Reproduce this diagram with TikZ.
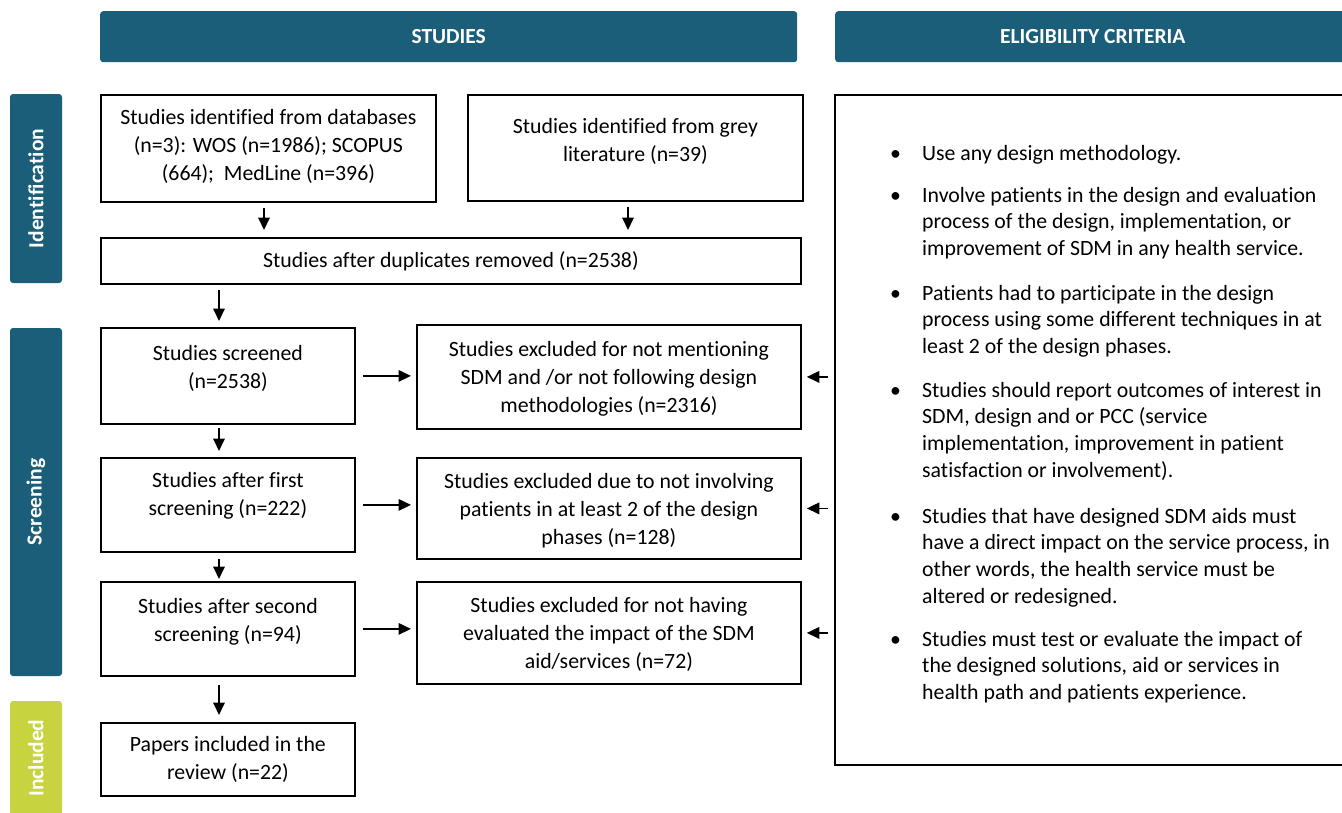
\documentclass[tikz,border=0pt]{standalone}
\usepackage{fontspec}
\setmainfont{Carlito}[Ligatures=NoCommon]
\usetikzlibrary{arrows.meta}
\definecolor{tealbar}{HTML}{1A5E7A}
\definecolor{limebar}{HTML}{C8D43F}
\newcommand{\bxtext}[4]{\parbox[c][#2pt][t]{#1pt}{\centering\fontsize{21.8}{27.7}\selectfont\vspace*{\dimexpr#3pt-19.39pt\relax}\strut #4}}
\newcommand{\bul}[1]{\parbox[t]{450pt}{\fontsize{21.8}{26.7}\selectfont\raggedright\leftskip=32pt\relax\hspace*{-32pt}\makebox[32pt][l]{\textbullet}#1}}
\begin{document}
\begin{tikzpicture}[x=1pt,y=-1pt,
  box/.style={draw=black, line width=1.8pt, inner sep=0pt, anchor=north west},
  hdr/.style={fill=tealbar, rounded corners=3pt, text=white, inner sep=0pt,
    font=\fontsize{21.5}{26}\selectfont\bfseries, anchor=north west},
  side/.style={rounded corners=3pt, text=white, inner sep=0pt, rotate=90,
    font=\fontsize{21.5}{26}\selectfont\bfseries, anchor=center, minimum height=52pt},
  crit/.style={anchor=base west, inner sep=0pt},
  arr/.style={-{Triangle[length=12.5pt,width=11.5pt]}, line width=1.8pt}
]
\useasboundingbox (0,0) rectangle (1342,812);
\fill[white] (0,0) rectangle (1342,812);

% headers
\node[hdr, minimum width=697pt, minimum height=51pt] (hstud) at (100,11) {STUDIES};
\node[hdr, minimum width=515pt, minimum height=51pt] (helig) at (835,11) {ELIGIBILITY CRITERIA};

% side bars
\node[side, fill=tealbar, minimum width=189pt] (sid) at (36,188.5) {Identification};
\node[side, fill=tealbar, minimum width=348pt] (sscr) at (36,502) {Screening};
\node[side, fill=limebar, minimum width=114pt] (sinc) at (36,758) {Included};

% flow boxes
\node[box] (box1) at (100,94) {\bxtext{335}{107}{30}{Studies identified from databases\\(n=3): WOS (n=1986); SCOPUS\\(664);\ \ MedLine (n=396)}};
\node[box] (box2) at (467,94) {\bxtext{335}{106}{39}{Studies identified from grey\\literature (n=39)}};
\node[box] (dup) at (100,237) {\bxtext{700}{46}{30}{Studies after duplicates removed (n=2538)}};
\node[box] (scr) at (100,327) {\bxtext{254}{96}{33}{Studies screened\\(n=2538)}};
\node[box] (first) at (100,457) {\bxtext{254}{94}{30}{Studies after first\\screening (n=222)}};
\node[box] (second) at (100,581) {\bxtext{254}{94}{32}{Studies after second\\screening (n=94)}};
\node[box] (papers) at (100,722) {\bxtext{254}{73}{29}{Papers included in the\\review (n=22)}};
\node[box] (ex1) at (416,324) {\bxtext{384}{104}{32}{Studies excluded for not mentioning\\SDM and /or not following design\\methodologies (n=2316)}};
\node[box] (ex2) at (416,457) {\bxtext{384}{101}{31}{Studies excluded due to not involving\\patients in at least 2 of the design\\phases (n=128)}};
\node[box] (ex3) at (416,581) {\bxtext{384}{102}{31}{Studies excluded for not having\\evaluated the impact of the SDM\\aid/services (n=72)}};

% criteria box
\node[box, minimum width=516pt, minimum height=670pt] (rbox) at (834,94) {};
\node[crit] (c1) at (890,160) {\bul{Use any design methodology.}};
\node[crit] (c2) at (890,202) {\bul{Involve patients in the design and evaluation\\process of the design, implementation, or\\improvement of SDM in any health service.}};
\node[crit] (c3) at (890,300) {\bul{Patients had to participate in the design\\process using some different techniques in at\\least 2 of the design phases.}};
\node[crit] (c4) at (890,397) {\bul{Studies should report outcomes of interest in\\SDM, design and or PCC (service\\implementation, improvement in patient\\satisfaction or involvement).}};
\node[crit] (c5) at (890,523) {\bul{Studies that have designed SDM aids must\\have a direct impact on the service process, in\\other words, the health service must be\\altered or redesigned.}};
\node[crit] (c6) at (890,646) {\bul{Studies must test or evaluate the impact of\\the designed solutions, aid or services in\\health path and patients experience.}};

% connectors
\coordinate (xa) at (264,0);
\coordinate (xb) at (628,0);
\coordinate (xc) at (219,0);
\draw[arr, shorten <=5pt, shorten >=7pt] (xa |- box1.south) -- (xa |- dup.north);
\draw[arr, shorten <=5pt, shorten >=7pt] (xb |- box2.south) -- (xb |- dup.north);
\draw[arr, shorten <=5pt, shorten >=6pt] (xc |- dup.south) -- (xc |- scr.north);
\draw[arr, shorten <=3pt, shorten >=6pt] (xc |- scr.south) -- (xc |- first.north);
\draw[arr, shorten <=6pt, shorten >=2pt] (xc |- first.south) -- (xc |- second.north);
\draw[arr, shorten <=8pt, shorten >=7pt] (xc |- second.south) -- (xc |- papers.north);
\draw[arr, shorten <=7pt, shorten >=5pt] (scr.east) -- (scr.east -| ex1.west);
\draw[arr, shorten <=7pt, shorten >=5pt] (first.east) -- (first.east -| ex2.west);
\draw[arr, shorten <=7pt, shorten >=5pt] (second.east) -- (second.east -| ex3.west);
\draw[arr, shorten <=6pt, shorten >=5pt] (rbox.west |- ex1.east) -- (ex1.east);
\draw[arr, shorten <=6pt, shorten >=5pt] (rbox.west |- ex2.east) -- (ex2.east);
\draw[arr, shorten <=6pt, shorten >=5pt] (rbox.west |- ex3.east) -- (ex3.east);
\end{tikzpicture}
\end{document}
